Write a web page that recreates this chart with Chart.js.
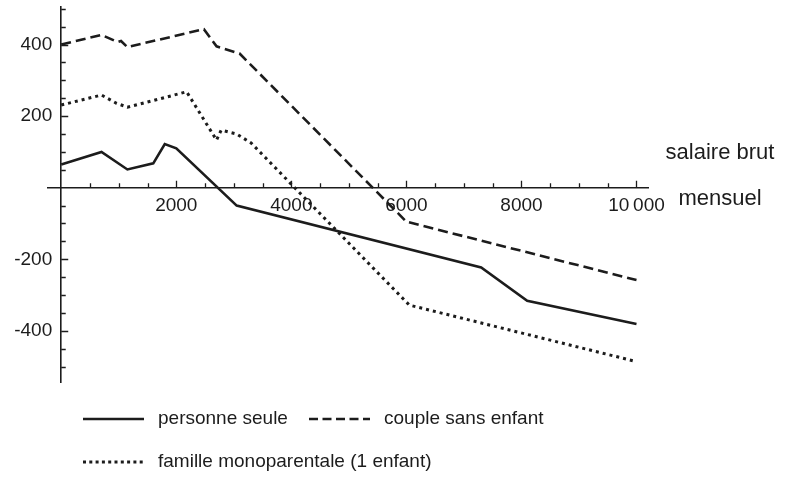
<!DOCTYPE html>
<html>
<head>
<meta charset="utf-8">
<script src="https://cdn.jsdelivr.net/npm/chart.js@4.4.1/dist/chart.umd.min.js"></script>
<style>
  html, body { margin: 0; padding: 0; background: #fff; }
</style>
</head>
<body>
<canvas id="chart" width="785" height="483"></canvas>
<script>
// salaire brut mensuel (x) et variation (y) pour chaque ménage
const salaryPersonne = [0, 700, 1150, 1600, 1800, 2000, 3050, 7300, 8100, 10000];
const valuesPersonne = [65, 100, 51, 68, 122, 110, -50, -223, -316, -381];

const salaryCouple = [0, 700, 980, 1040, 1150, 2480, 2700, 3100, 6000, 10000];
const valuesCouple = [400, 427, 407, 410, 393, 443, 395, 375, -95, -258];

const salaryFamille = [0, 700, 960, 1150, 2180, 2700, 2780, 3050, 3300, 6050, 10000];
const valuesFamille = [231, 259, 236, 225, 268, 133, 161, 150, 125, -328, -486];

const seriesLabels = ['personne seule', 'couple sans enfant', 'famille monoparentale (1 enfant)'];

const xTickLabels = [2000, 4000, 6000, 8000, 10000];
const yTickLabels = [-400, -200, 200, 400];
const xMinorStep = 500;
const yMinorStep = 50;

const INK = '#1c1c1c';
const FONT = '"Liberation Sans", Arial, Helvetica, sans-serif';

const toPoints = (xs, ys) => xs.map((x, i) => ({ x: x, y: ys[i] }));

// axes crossing at the origin: no extra room for labels
const noPadding = s => { s.paddingTop = 0; s.paddingBottom = 0; s.paddingLeft = 0; s.paddingRight = 0; };

// inward tick marks, y labels, axis title and legend
const decorations = {
    id: 'decorations',
    afterDraw(chart) {
        const ctx = chart.ctx;
        const xs = chart.scales.x;
        const ys = chart.scales.y;
        const x0 = xs.getPixelForValue(0);
        const y0 = ys.getPixelForValue(0);

        ctx.save();
        ctx.strokeStyle = INK;
        ctx.lineWidth = 1.3;
        ctx.beginPath();
        for (let v = xMinorStep; v <= xs.max; v += xMinorStep) {
            const px = Math.round(xs.getPixelForValue(v)) + 0.5;
            const len = xTickLabels.includes(v) ? 7 : 4.5;
            ctx.moveTo(px, y0);
            ctx.lineTo(px, y0 - len);
        }
        for (let v = Math.ceil(ys.min / yMinorStep) * yMinorStep; v <= ys.max; v += yMinorStep) {
            if (v === 0) continue;
            const py = Math.round(ys.getPixelForValue(v)) + 0.5;
            const len = yTickLabels.includes(v) ? 7 : 4.5;
            ctx.moveTo(x0, py);
            ctx.lineTo(x0 + len, py);
        }
        ctx.stroke();

        ctx.fillStyle = INK;
        ctx.font = '19px ' + FONT;
        ctx.textAlign = 'right';
        ctx.textBaseline = 'middle';
        yTickLabels.forEach(v => ctx.fillText(String(v), x0 - 9, ys.getPixelForValue(v)));

        // titre de l'axe x
        const cx = chart.chartArea.right + 72;
        ctx.font = '22px ' + FONT;
        ctx.textAlign = 'center';
        ctx.fillText('salaire brut', cx, 153);
        ctx.fillText('mensuel', cx, 199);

        // légende
        const slots = [
            { x: 83, y: 419 },
            { x: 309, y: 419 },
            { x: 83, y: 462 }
        ];
        ctx.font = '19px ' + FONT;
        ctx.textAlign = 'left';
        chart.data.datasets.forEach((ds, i) => {
            const s = slots[i];
            ctx.beginPath();
            ctx.lineWidth = ds.borderWidth;
            ctx.setLineDash(i === 1 ? [9, 4.5] : (i === 2 ? [3, 3.3] : []));
            ctx.moveTo(s.x, s.y);
            ctx.lineTo(s.x + 61, s.y);
            ctx.stroke();
            ctx.setLineDash([]);
            ctx.fillText(ds.label, s.x + 75, s.y);
        });
        ctx.restore();
    }
};

new Chart(document.getElementById('chart'), {
    type: 'line',
    data: {
        datasets: [
            {
                label: seriesLabels[0],
                data: toPoints(salaryPersonne, valuesPersonne),
                borderColor: INK,
                borderWidth: 2.6
            },
            {
                label: seriesLabels[1],
                data: toPoints(salaryCouple, valuesCouple),
                borderColor: INK,
                borderWidth: 2.6,
                borderDash: [10, 5]
            },
            {
                label: seriesLabels[2],
                data: toPoints(salaryFamille, valuesFamille),
                borderColor: INK,
                borderWidth: 3,
                borderDash: [3, 4]
            }
        ]
    },
    options: {
        responsive: false,
        animation: false,
        devicePixelRatio: 1,
        elements: { point: { radius: 0 }, line: { tension: 0 } },
        layout: { padding: { left: 48, right: 137, top: 7, bottom: 101 } },
        plugins: { legend: { display: false }, tooltip: { enabled: false } },
        scales: {
            x: {
                type: 'linear',
                min: -230,
                max: 10200,
                position: { y: 0 },
                grid: { display: false, drawTicks: false },
                border: { display: true, color: INK, width: 1.6 },
                afterBuildTicks: s => { s.ticks = xTickLabels.map(v => ({ value: v })); },
                afterFit: noPadding,
                ticks: {
                    color: INK,
                    font: { family: FONT, size: 19 },
                    padding: 7,
                    maxRotation: 0,
                    autoSkip: false,
                    callback: v => v === 10000 ? '10\u2009000' : String(v)
                }
            },
            y: {
                type: 'linear',
                min: -543,
                max: 505,
                position: { x: 0 },
                grid: { display: false, drawTicks: false },
                border: { display: true, color: INK, width: 1.6 },
                afterBuildTicks: s => { s.ticks = yTickLabels.map(v => ({ value: v })); },
                afterFit: noPadding,
                ticks: { display: false }
            }
        }
    },
    plugins: [decorations]
});
</script>
</body>
</html>
